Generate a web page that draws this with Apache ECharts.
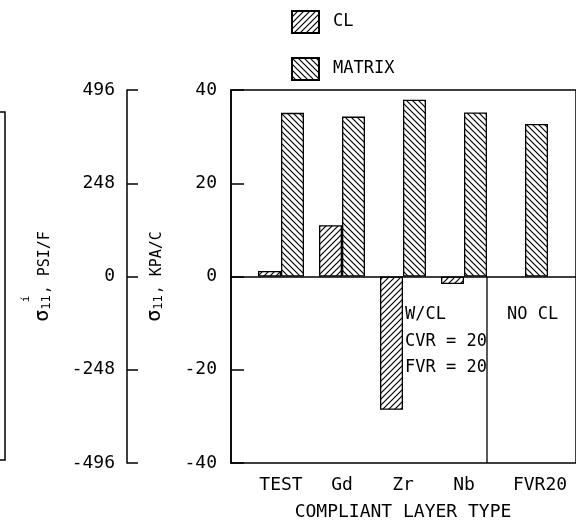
<!DOCTYPE html>
<html>
<head>
<meta charset="utf-8">
<script src="https://cdn.jsdelivr.net/npm/echarts@6/dist/echarts.min.js"></script>
<style>
  html, body { margin: 0; padding: 0; background: #fff; }
  #main { width: 576px; height: 527px; }
</style>
</head>
<body>
<div id="main"></div>
<script>
const categories = ['TEST', 'Gd', 'Zr', 'Nb', 'FVR20']
const clData = [1.2, 11, -28.6, -1.6, '-'] // 'NO CL' for FVR20
const matrixData = [35.1, 34.3, 37.9, 35.2, 32.7]
const kpaTicks = { min: -40, max: 40, interval: 20 }
const psiTicks = { min: -496, max: 496, interval: 248 }

const FONT = 'DejaVu Sans Mono'
const INK = '#000'

/** 斜线填充 */
function hatch(dir, p) {
  const c = document.createElement('canvas')
  c.width = p
  c.height = p
  const ctx = c.getContext('2d')
  ctx.strokeStyle = INK
  ctx.lineWidth = 1.2
  ctx.beginPath()
  if (dir === '/') {
    ctx.moveTo(0, p); ctx.lineTo(p, 0)
    ctx.moveTo(-1, 1); ctx.lineTo(1, -1)
    ctx.moveTo(p - 1, p + 1); ctx.lineTo(p + 1, p - 1)
  } else {
    ctx.moveTo(0, 0); ctx.lineTo(p, p)
    ctx.moveTo(-1, p - 1); ctx.lineTo(1, p + 1)
    ctx.moveTo(p - 1, -1); ctx.lineTo(p + 1, 1)
  }
  ctx.stroke()
  return { image: c, repeat: 'repeat' }
}

const chart = echarts.init(document.getElementById('main'))

function nameRich() {
  return {
    s: { fontFamily: FONT, fontSize: 20, color: INK, verticalAlign: 'bottom', lineHeight: 22 },
    sub: { fontFamily: FONT, fontSize: 12, color: INK, verticalAlign: 'bottom', lineHeight: 22, padding: [0, 1, 0, 0] },
    u: { fontFamily: FONT, fontSize: 15, color: INK, verticalAlign: 'bottom', lineHeight: 22 }
  }
}

const option = {
  animation: false,
  backgroundColor: '#fff',
  legend: {
    orient: 'vertical',
    left: 286,
    top: 5,
    icon: 'rect',
    itemWidth: 27,
    itemHeight: 22,
    itemGap: 23,
    selectedMode: false,
    textStyle: { fontFamily: FONT, fontSize: 17, color: INK, padding: [0, 0, 0, 9] },
    data: ['CL', 'MATRIX']
  },
  grid: [
    // 外框
    { left: 231, top: 90, right: -20, bottom: 64, show: true, borderColor: INK, borderWidth: 1.5 },
    // 柱状图
    { left: 250.5, top: 90, right: 20.5, bottom: 64 }
  ],
  xAxis: [
    {
      gridIndex: 0,
      type: 'value',
      min: 0,
      max: 1,
      axisLine: { show: true, onZero: true, lineStyle: { color: INK, width: 1.5 } },
      axisTick: { show: false },
      axisLabel: { show: false },
      splitLine: { show: false }
    },
    {
      gridIndex: 1,
      type: 'category',
      data: categories,
      axisLine: { show: false },
      axisTick: { show: false },
      axisLabel: {
        interval: 0,
        margin: 13,
        fontFamily: FONT,
        fontSize: 18,
        color: INK,
        // FVR20 标签在原图中偏右
        formatter: v => (v === 'FVR20' ? '{r|' + v + '}' : v),
        rich: { r: { fontFamily: FONT, fontSize: 18, color: INK, padding: [0, 0, 0, 30] } }
      },
      name: 'COMPLIANT LAYER TYPE',
      nameLocation: 'middle',
      nameGap: 40,
      nameTextStyle: { fontFamily: FONT, fontSize: 18, color: INK }
    }
  ],
  yAxis: [
    {
      gridIndex: 0,
      type: 'value',
      min: kpaTicks.min,
      max: kpaTicks.max,
      interval: kpaTicks.interval,
      axisLine: { show: true, lineStyle: { color: INK, width: 1.5 } },
      axisTick: { show: true, inside: true, length: 13, lineStyle: { color: INK, width: 1.5 } },
      axisLabel: { margin: 14, fontFamily: FONT, fontSize: 18, color: INK },
      splitLine: { show: false },
      name: '{s|σ}{sub|11}{u|, KPA/C}',
      nameLocation: 'middle',
      nameGap: 66,
      nameTextStyle: { rich: nameRich() }
    },
    {
      gridIndex: 0,
      type: 'value',
      position: 'left',
      offset: 104,
      min: psiTicks.min,
      max: psiTicks.max,
      interval: psiTicks.interval,
      axisLine: { show: true, lineStyle: { color: INK, width: 1.5 } },
      axisTick: { show: true, inside: true, length: 11, lineStyle: { color: INK, width: 1.5 } },
      axisLabel: { margin: 12, fontFamily: FONT, fontSize: 18, color: INK },
      splitLine: { show: false },
      name: '{s|σ}{sub|11}{u|, PSI/F}',
      nameLocation: 'middle',
      nameGap: 74,
      nameTextStyle: { rich: nameRich() }
    },
    {
      gridIndex: 1,
      type: 'value',
      min: kpaTicks.min,
      max: kpaTicks.max,
      show: false
    }
  ],
  series: [
    {
      name: 'CL',
      type: 'bar',
      xAxisIndex: 1,
      yAxisIndex: 2,
      barWidth: 23,
      barGap: '0%',
      itemStyle: { color: hatch('/', 6), borderColor: INK, borderWidth: 1.3 },
      data: clData
    },
    {
      name: 'MATRIX',
      type: 'bar',
      xAxisIndex: 1,
      yAxisIndex: 2,
      barWidth: 23,
      barGap: '0%',
      itemStyle: { color: hatch('\\', 6), borderColor: INK, borderWidth: 1.3 },
      data: matrixData
    }
  ]
}

chart.setOption(option)

// 分隔线与注释
const zero = chart.convertToPixel({ yAxisIndex: 2 }, 0)
const bottom = chart.convertToPixel({ yAxisIndex: 2 }, kpaTicks.min)
const nbX = chart.convertToPixel({ xAxisIndex: 1 }, 'Nb') + 23
const zrX = chart.convertToPixel({ xAxisIndex: 1 }, 'Zr') + 2
const textStyle = { fontFamily: FONT, fontSize: 17, fill: INK }

chart.setOption({
  graphic: [
    { type: 'line', shape: { x1: nbX, y1: zero, x2: nbX, y2: bottom }, style: { stroke: INK, lineWidth: 1.3 } },
    { type: 'text', x: zrX, y: 315, style: Object.assign({ text: 'W/CL', verticalAlign: 'middle' }, textStyle) },
    { type: 'text', x: zrX, y: 342, style: Object.assign({ text: 'CVR = 20', verticalAlign: 'middle' }, textStyle) },
    { type: 'text', x: zrX, y: 368, style: Object.assign({ text: 'FVR = 20', verticalAlign: 'middle' }, textStyle) },
    { type: 'text', x: nbX + 20, y: 315, style: Object.assign({ text: 'NO CL', verticalAlign: 'middle' }, textStyle) },
    // 左侧残留图框
    { type: 'polyline', shape: { points: [[-2, 112], [5, 112], [5, 460], [-2, 460]] }, style: { stroke: INK, lineWidth: 1.5, fill: null } },
    // 上标
    { type: 'text', x: 26, y: 299, rotation: Math.PI / 2, style: { text: 'í', fontFamily: FONT, fontSize: 11, fill: INK, align: 'center', verticalAlign: 'middle' } }
  ]
})
</script>
</body>
</html>
